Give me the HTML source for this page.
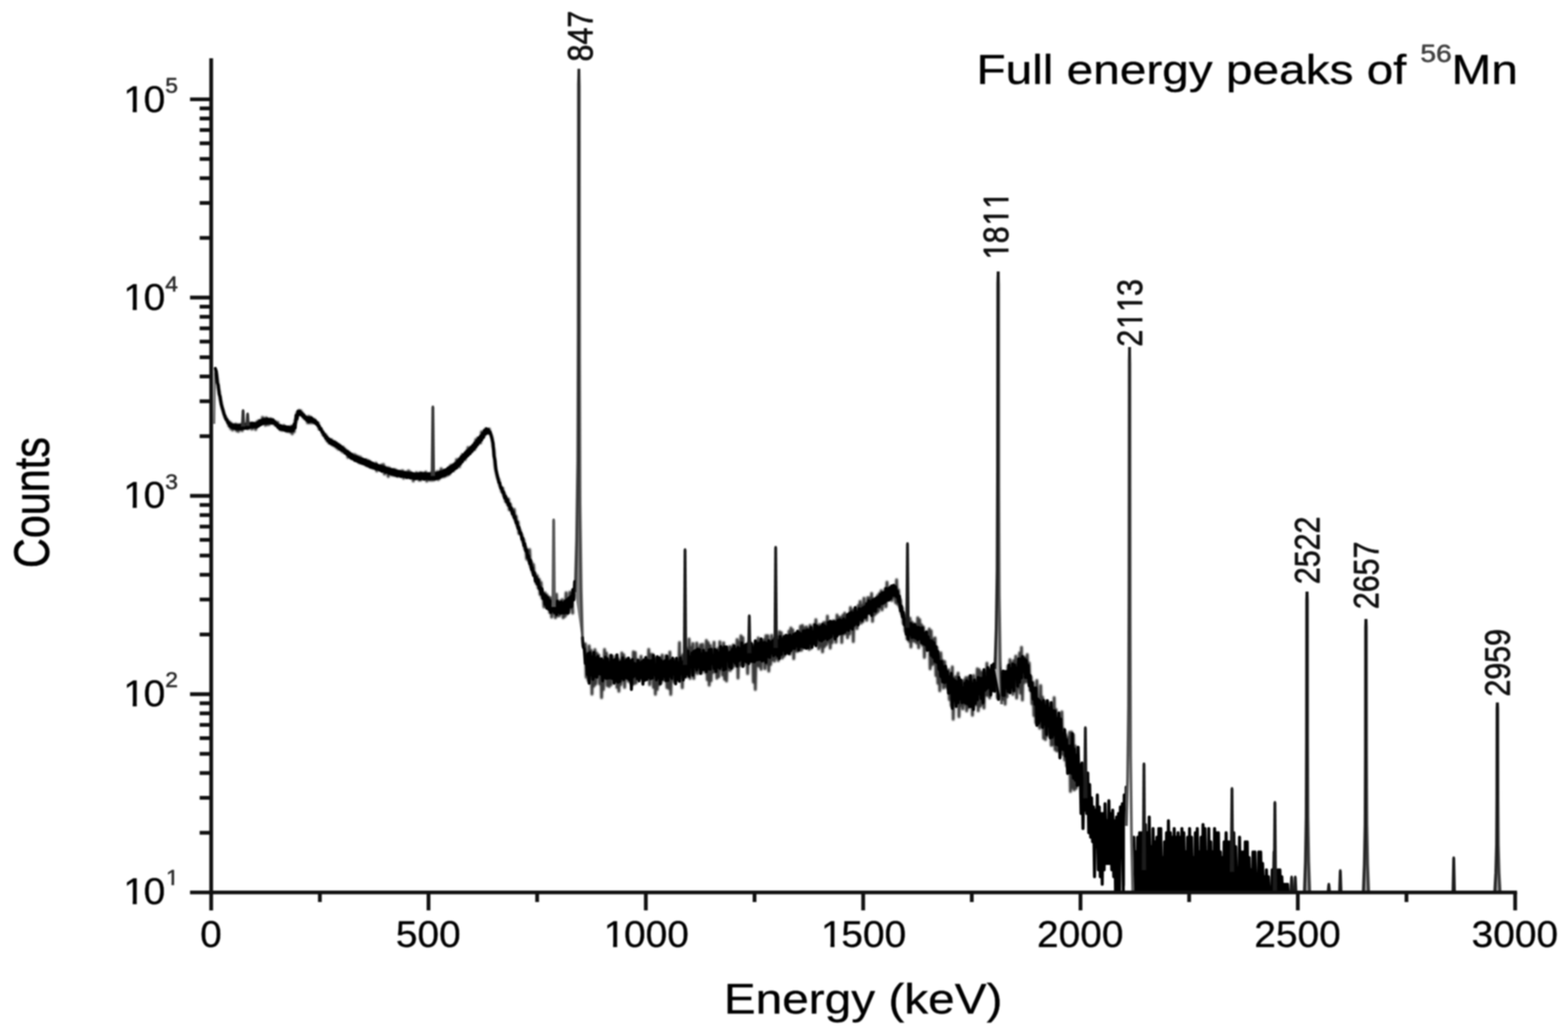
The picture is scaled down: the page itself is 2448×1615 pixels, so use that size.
<!DOCTYPE html>
<html lang="en"><head><meta charset="utf-8"><title>Full energy peaks of 56Mn</title>
<style>
html,body{margin:0;padding:0;background:#fff;}
body{width:2448px;height:1615px;overflow:hidden;}
svg{display:block;filter:blur(1.15px);}
text{font-family:"Liberation Sans",Arial,Helvetica,sans-serif;font-kerning:none;stroke:#000;stroke-width:0.45px;stroke-linejoin:round;}
text.pl{stroke-width:0.8px;}
text.sup{stroke:#333;stroke-width:0.8px;}
</style></head><body>
<svg width="2448" height="1615" viewBox="0 0 2448 1615">
<rect x="-20" y="-20" width="2488" height="1655" fill="#fff"/>
<defs><filter id="fb" x="-5%" y="-20%" width="110%" height="140%"><feGaussianBlur stdDeviation="1.1"/></filter><clipPath id="pc"><rect x="329.7" y="80" width="2039.8" height="1313.9"/></clipPath></defs>
<g clip-path="url(#pc)">
<g filter="url(#fb)" fill="none" stroke="#000" stroke-opacity="0.78" stroke-width="4.6" stroke-linejoin="round" stroke-linecap="round"><path d="M337.8,584.1 339.2,591.9 340.8,606.3 342.2,611.3 343.8,623.7 345.2,628.1 346.8,636.8 348.2,641.2 349.8,647.1 351.2,652.0 352.8,652.4 354.2,657.6 355.8,657.0 357.2,664.9 358.8,659.4 360.2,669.4 361.8,661.7 363.2,671.6 364.8,664.5 366.2,668.3 367.8,662.3 369.2,672.8 370.8,663.2 372.2,674.0 373.8,663.5 375.2,670.8 376.8,662.8 378.2,672.7 379.8,663.3 381.2,668.6 382.8,663.7 384.2,668.0 385.8,661.1 387.2,669.5 388.8,662.1 390.2,667.0 391.8,660.8 393.2,670.3 394.8,661.1 396.2,668.1 397.8,662.1 399.2,671.0 400.8,659.1 402.2,665.2 403.8,657.3 405.2,663.2 406.8,657.6 408.2,661.4 409.8,651.9 411.2,659.3 412.8,653.8 414.2,664.1 415.8,652.6 417.2,663.2 418.8,655.7 420.2,662.9 421.8,654.2 423.2,660.3 424.8,655.1 426.2,661.1 427.8,657.1 429.2,663.6 430.8,659.2 432.2,665.3 433.8,659.8 435.2,668.6 436.8,665.0 438.2,671.3 439.8,666.3 441.2,671.9 442.8,664.5 444.2,670.9 445.8,666.9 447.2,673.4 448.8,668.0 450.2,673.9 451.8,668.8 453.2,674.8 454.8,665.6 456.2,677.6 457.8,666.1 459.2,674.2 460.8,656.4 462.2,659.0 463.8,644.5 465.2,649.2 466.8,641.1 468.2,645.8 469.8,641.8 471.2,648.9 472.8,645.8 474.2,652.7 475.8,649.5 477.2,655.1 478.8,651.8 480.2,660.4 481.8,650.3 483.2,660.4 484.8,651.6 486.2,660.3 487.8,654.0 489.2,660.5 490.8,655.3 492.2,660.5 493.8,658.7 495.2,663.2 496.8,660.9 498.2,669.9 499.8,667.9 501.2,671.4 502.8,672.4 504.2,678.9 505.8,676.9 507.2,682.7 508.8,679.4 510.2,687.9 511.8,683.8 513.2,691.3 514.8,686.8 516.2,693.0 517.8,686.9 519.2,695.1 520.8,689.9 522.2,696.6 523.8,690.8 525.2,699.2 526.8,693.3 528.2,701.5 529.8,695.0 531.2,702.1 532.8,697.8 534.2,705.2 535.8,698.4 537.2,706.9 538.8,701.7 540.2,708.0 541.8,704.1 543.2,714.4 544.8,706.5 546.2,713.6 547.8,709.4 549.2,716.3 550.8,709.9 552.2,717.3 553.8,710.1 555.2,718.8 556.8,711.9 558.2,720.5 559.8,713.2 561.2,722.6 562.8,714.1 564.2,723.5 565.8,717.0 567.2,724.1 568.8,720.3 570.2,725.9 571.8,718.2 573.2,727.5 574.8,719.4 576.2,728.4 577.8,721.0 579.2,730.0 580.8,723.7 582.2,731.2 583.8,725.9 585.2,731.1 586.8,723.3 588.2,735.6 589.8,727.7 591.2,733.4 592.8,727.5 594.2,734.0 595.8,726.3 597.2,735.9 598.8,725.4 600.2,740.5 601.8,729.9 603.2,738.0 604.8,730.6 606.2,744.2 607.8,731.0 609.2,737.5 610.8,733.8 612.2,742.0 613.8,733.6 615.2,742.5 616.8,733.6 618.2,743.0 619.8,735.2 621.2,743.9 622.8,737.3 624.2,742.9 625.8,735.9 627.2,744.1 628.8,735.2 630.2,747.0 631.8,738.3 633.2,742.9 634.8,737.3 636.2,745.9 637.8,735.3 639.2,745.3 640.8,737.6 642.2,746.1 643.8,740.8 645.2,751.3 646.8,740.7 648.2,747.5 649.8,738.2 651.2,746.2 652.8,739.9 654.2,749.9 655.8,738.3 657.2,749.6 658.8,738.7 660.2,745.2 661.8,739.7 663.2,748.0 664.8,737.2 666.2,751.5 667.8,742.3 669.2,749.3 670.8,741.8 672.2,749.9 673.8,737.9 675.2,749.9 676.8,741.4 678.2,749.5 679.8,738.2 681.2,747.1 682.8,736.5 684.2,749.1 685.8,738.6 687.2,746.5 688.8,732.0 690.2,744.7 691.8,736.7 693.2,744.5 694.8,734.9 696.2,743.2 697.8,734.6 699.2,742.0 700.8,730.3 702.2,740.1 703.8,726.7 705.2,735.0 706.8,726.3 708.2,735.2 709.8,724.4 711.2,731.5 712.8,717.8 714.2,729.2 715.8,717.7 717.2,728.9 718.8,715.0 720.2,722.9 721.8,710.0 723.2,718.9 724.8,710.1 726.2,717.7 727.8,705.4 729.2,712.1 730.8,699.1 732.2,709.0 733.8,699.7 735.2,706.7 736.8,697.2 738.2,703.6 739.8,693.9 741.2,701.7 742.8,686.9 744.2,696.8 745.8,684.3 747.2,692.3 748.8,683.7 750.2,691.8 751.8,674.6 753.2,685.0 754.8,674.4 756.2,680.6 757.8,670.4 759.2,676.0 760.8,671.9 762.2,676.6 763.8,670.3 765.2,676.4 766.8,679.1 768.2,683.9 769.8,697.8 771.2,702.8 772.8,726.4 774.2,735.2 775.8,742.8 777.2,747.9 778.8,749.0 780.2,758.4 781.8,760.2 783.2,767.7 784.8,762.4 786.2,774.2 787.8,771.1 789.2,783.1 790.8,777.5 792.2,787.8 793.8,779.4 795.2,796.2 796.8,787.3 798.2,797.6 799.8,796.4 801.2,805.6 802.8,795.4 804.2,812.8 805.8,806.1 807.2,821.3 808.8,815.1 810.2,833.4 811.8,827.6 813.2,835.0 814.8,835.2 816.2,846.3 817.8,843.0 819.2,857.5 820.8,854.2 822.2,873.2 823.8,860.4 825.2,875.8 826.8,858.4 828.2,885.1 829.8,877.5 831.2,893.7 832.8,881.8 834.2,898.4 835.8,896.0 837.2,911.3 838.8,899.2 840.2,918.3 841.8,904.9 843.2,928.6 844.8,909.8 846.2,934.2 847.8,926.6 849.2,948.1 850.8,925.9 852.2,947.3 853.8,929.1 855.2,948.6 856.8,932.5 858.2,956.5 859.8,933.8 861.2,963.9 862.8,942.0 864.2,957.5 865.8,938.9 867.2,964.9 868.8,928.0 870.2,961.9 871.8,940.8 873.2,961.9 874.8,938.9 876.2,954.5 877.8,936.5 879.2,965.0 880.8,940.5 882.2,962.6 883.8,925.9 885.2,959.2 886.8,935.7 888.2,957.0 889.8,924.7 891.2,949.7 892.8,927.3 894.2,957.6"/><path d="M913.8,1005.5 915.2,1057.7 916.8,1021.3 918.2,1062.9 919.8,1008.7 921.2,1058.5 922.8,1015.9 924.2,1084.1 925.8,1022.5 927.2,1071.6 928.8,1014.5 930.2,1068.4 931.8,1020.3 933.2,1048.7 934.8,1023.2 936.2,1068.3 937.8,1029.3 939.2,1089.6 940.8,1041.4 942.2,1076.9 943.8,1014.3 945.2,1053.5 946.8,1020.0 948.2,1070.9 949.8,1032.4 951.2,1072.3 952.8,1023.9 954.2,1069.3 955.8,1024.9 957.2,1058.4 958.8,1034.5 960.2,1062.4 961.8,1024.9 963.2,1073.7 964.8,1029.1 966.2,1079.7 967.8,1032.3 969.2,1069.3 970.8,1019.9 972.2,1062.4 973.8,1022.9 975.2,1073.7 976.8,1029.1 978.2,1055.8 979.8,1029.1 981.2,1063.8 982.8,1031.2 984.2,1066.5 985.8,1037.8 987.2,1069.3 988.8,1018.0 990.2,1067.9 991.8,1019.0 993.2,1066.6 994.8,1030.2 996.2,1058.5 997.8,1032.3 999.2,1058.5 1000.8,1025.0 1002.2,1059.8 1003.8,1037.9 1005.2,1058.5 1006.8,1032.4 1008.2,1061.2 1009.8,1030.2 1011.2,1052.1 1012.8,1014.2 1014.2,1069.5 1015.8,1022.0 1017.2,1049.7 1018.8,1022.0 1020.2,1073.8 1021.8,1027.1 1023.2,1084.5 1024.8,1029.2 1026.2,1076.8 1027.8,1028.2 1029.2,1069.5 1030.8,1027.2 1032.2,1066.7 1033.8,1023.1 1035.2,1061.3 1036.8,1033.6 1038.2,1062.6 1039.8,1024.1 1041.2,1073.9 1042.8,1029.3 1044.2,1075.4 1045.8,1018.2 1047.2,1084.7 1048.8,1033.6 1050.2,1061.4 1051.8,1030.4 1053.2,1065.5 1054.8,1030.4 1056.2,1060.1 1057.8,1031.5 1059.2,1062.8 1060.8,1003.5 1062.2,1058.8 1063.8,1025.2 1065.2,1074.1 1066.8,1022.5 1068.2,1056.6 1069.8,1021.2 1071.2,1057.5 1072.8,1013.1 1074.2,1053.1 1075.8,998.1 1077.2,1059.7 1078.8,1011.4 1080.2,1052.0 1081.8,1005.1 1083.2,1059.8 1084.8,1021.0 1086.2,1049.7 1087.8,1004.3 1089.2,1052.2 1090.8,1012.5 1092.2,1043.8 1093.8,1007.1 1095.2,1051.1 1096.8,1006.2 1098.2,1029.5 1099.8,1028.5 1101.2,1050.1 1102.8,1000.3 1104.2,1061.7 1105.8,1003.8 1107.2,1070.1 1108.8,1008.3 1110.2,1063.2 1111.8,1014.8 1113.2,1050.3 1114.8,1003.0 1116.2,1049.2 1117.8,1024.7 1119.2,1059.4 1120.8,1013.0 1122.2,1056.9 1123.8,1002.3 1125.2,1045.7 1126.8,1011.3 1128.2,1054.4 1129.8,1004.1 1131.2,1061.0 1132.8,1011.4 1134.2,1063.8 1135.8,1019.1 1137.2,1046.0 1138.8,1009.7 1140.2,1047.4 1141.8,1010.7 1143.2,1043.9 1144.8,1007.2 1146.2,1040.5 1147.8,1017.5 1149.2,1037.3 1150.8,998.7 1152.2,1059.2 1153.8,1003.1 1155.2,1039.8 1156.8,993.1 1158.2,1037.6 1159.8,995.7 1161.2,1038.9 1162.8,1011.4 1164.2,1033.4 1165.8,1009.7 1167.2,1052.1 1168.8,1003.5 1170.2,1034.7 1171.8,1003.6 1173.2,1026.2 1174.8,1007.2 1176.2,1065.4 1177.8,1009.1 1179.2,1077.0 1180.8,1002.1 1182.2,1039.4 1183.8,996.3 1185.2,1040.6 1186.8,1003.1 1188.2,1045.4 1189.8,1001.5 1191.2,1027.8 1192.8,999.1 1194.2,1044.5 1195.8,992.7 1197.2,1036.6 1198.8,992.8 1200.2,1048.3 1201.8,1002.0 1203.2,1038.0 1204.8,992.2 1206.2,1030.5 1207.8,1007.4 1209.2,1032.7 1210.8,999.8 1212.2,1027.6 1213.8,994.2 1215.2,1031.9 1216.8,986.5 1218.2,1020.8 1219.8,988.1 1221.2,1028.0 1222.8,1000.3 1224.2,1025.0 1225.8,993.1 1227.2,1021.2 1228.8,994.9 1230.2,1019.4 1231.8,985.8 1233.2,1021.6 1234.8,980.8 1236.2,1007.9 1237.8,983.9 1239.2,1029.0 1240.8,992.4 1242.2,1016.4 1243.8,990.2 1245.2,1017.4 1246.8,986.5 1248.2,1015.7 1249.8,978.0 1251.2,1015.8 1252.8,976.7 1254.2,1012.3 1255.8,981.1 1257.2,1007.1 1258.8,979.1 1260.2,1003.8 1261.8,982.1 1263.2,1014.5 1264.8,976.6 1266.2,1012.8 1267.8,986.0 1269.2,1005.9 1270.8,975.5 1272.2,1005.2 1273.8,967.7 1275.2,1003.7 1276.8,977.9 1278.2,1013.4 1279.8,975.3 1281.2,1009.1 1282.8,980.9 1284.2,1018.3 1285.8,972.2 1287.2,1010.2 1288.8,972.3 1290.2,1006.9 1291.8,962.3 1293.2,1002.0 1294.8,976.6 1296.2,1012.4 1297.8,976.1 1299.2,1003.9 1300.8,969.6 1302.2,992.8 1303.8,970.4 1305.2,1003.3 1306.8,960.5 1308.2,985.6 1309.8,964.3 1311.2,990.2 1312.8,964.5 1314.2,1003.7 1315.8,961.0 1317.2,990.4 1318.8,957.6 1320.2,989.2 1321.8,962.0 1323.2,996.2 1324.8,960.5 1326.2,990.3 1327.8,948.7 1329.2,977.1 1330.8,953.4 1332.2,1002.3 1333.8,951.9 1335.2,975.5 1336.8,954.9 1338.2,981.8 1339.8,945.9 1341.2,968.8 1342.8,939.4 1344.2,973.5 1345.8,945.8 1347.2,971.1 1348.8,934.4 1350.2,965.1 1351.8,943.0 1353.2,968.9 1354.8,933.4 1356.2,957.2 1357.8,934.1 1359.2,958.5 1360.8,926.8 1362.2,970.6 1363.8,935.4 1365.2,960.5 1366.8,936.5 1368.2,957.8 1369.8,930.6 1371.2,955.1 1372.8,927.1 1374.2,948.8 1375.8,922.5 1377.2,952.7 1378.8,930.1 1380.2,941.5 1381.8,919.8 1383.2,947.6 1384.8,909.2 1386.2,936.4 1387.8,920.1 1389.2,936.0 1390.8,916.5 1392.2,938.0 1393.8,919.0 1395.2,932.4 1396.8,915.8 1398.2,941.4 1399.8,905.5 1401.2,943.7 1402.8,921.6 1404.2,947.9 1405.8,936.6 1407.2,958.6 1408.8,949.5 1410.2,973.9 1411.8,960.9 1413.2,985.8 1414.8,969.4 1416.2,997.9 1417.8,973.0 1419.2,1001.7 1420.8,965.6 1422.2,1010.7 1423.8,971.9 1425.2,1000.5 1426.8,974.4 1428.2,1002.0 1429.8,975.6 1431.2,1004.3 1432.8,964.9 1434.2,1011.8 1435.8,967.8 1437.2,998.8 1438.8,976.1 1440.2,1007.7 1441.8,979.2 1443.2,1027.0 1444.8,988.2 1446.2,1014.0 1447.8,986.8 1449.2,1012.4 1450.8,982.4 1452.2,1044.6 1453.8,985.4 1455.2,1038.2 1456.8,998.9 1458.2,1036.3 1459.8,996.2 1461.2,1055.3 1462.8,1011.0 1464.2,1067.3 1465.8,1025.5 1467.2,1079.0 1468.8,1019.5 1470.2,1049.0 1471.8,1032.0 1473.2,1074.7 1474.8,1033.2 1476.2,1071.9 1477.8,1052.0 1479.2,1075.1 1480.8,1046.1 1482.2,1092.8 1483.8,1057.9 1485.2,1102.4 1486.8,1041.6 1488.2,1123.4 1489.8,1058.5 1491.2,1097.8 1492.8,1056.8 1494.2,1092.1 1495.8,1051.4 1497.2,1119.5 1498.8,1065.6 1500.2,1101.9 1501.8,1065.4 1503.2,1107.2 1504.8,1062.5 1506.2,1099.6 1507.8,1058.3 1509.2,1110.5 1510.8,1058.5 1512.2,1105.0 1513.8,1056.1 1515.2,1099.8 1516.8,1064.2 1518.2,1117.1 1519.8,1055.1 1521.2,1100.3 1522.8,1063.3 1524.2,1100.6 1525.8,1044.6 1527.2,1110.3 1528.8,1046.0 1530.2,1103.2 1531.8,1049.9 1533.2,1100.0 1534.8,1050.3 1536.2,1106.0 1537.8,1050.7 1539.2,1085.8 1540.8,1035.9 1542.2,1086.4 1543.8,1044.3 1545.2,1090.2 1546.8,1049.5 1548.2,1079.6 1549.8,1040.9 1551.2,1067.5 1552.8,1038.0 1554.2,1078.4 1555.8,1028.5 1557.2,1089.9 1558.8,1035.2 1560.2,1074.6 1561.8,1049.4 1563.2,1079.5 1564.8,1052.0 1566.2,1092.6 1567.8,1054.9 1569.2,1100.0 1570.8,1050.3 1572.2,1088.5 1573.8,1039.9 1575.2,1069.1 1576.8,1030.2 1578.2,1078.2 1579.8,1035.9 1581.2,1084.8 1582.8,1031.7 1584.2,1078.9 1585.8,1024.7 1587.2,1090.4 1588.8,1037.1 1590.2,1074.2 1591.8,1019.9 1593.2,1082.7 1594.8,1011.0 1596.2,1093.5 1597.8,1025.9 1599.2,1066.4 1600.8,1027.5 1602.2,1064.5 1603.8,1022.4 1605.2,1065.9 1606.8,1035.5 1608.2,1078.1 1609.8,1057.0 1611.2,1099.3 1612.8,1065.9 1614.2,1117.7 1615.8,1076.5 1617.2,1128.9 1618.8,1062.7 1620.2,1132.0 1621.8,1093.6 1623.2,1137.4 1624.8,1070.9 1626.2,1133.9 1627.8,1089.0 1629.2,1153.1 1630.8,1098.9 1632.2,1155.2 1633.8,1095.0 1635.2,1149.3 1636.8,1098.1 1638.2,1143.8 1639.8,1104.7 1641.2,1164.1 1642.8,1115.6 1644.2,1163.2 1645.8,1089.5 1647.2,1171.0 1648.8,1108.4 1650.2,1173.1 1651.8,1119.5 1653.2,1171.8 1654.8,1133.7 1656.2,1170.4 1657.8,1111.7 1659.2,1178.4 1660.8,1138.8 1662.2,1187.0 1663.8,1147.8 1665.2,1196.3 1666.8,1152.2 1668.2,1195.3 1669.8,1143.9 1671.2,1236.3 1672.8,1143.3 1674.2,1230.2 1675.8,1147.6 1677.2,1233.7 1678.8,1165.2 1680.2,1231.2"/></g>
<path d="M336.2,575.4 337.8,580.1 339.2,597.2 340.8,601.7 342.2,615.5 343.8,619.9 345.2,630.8 346.8,636.2 348.2,640.8 349.8,646.7 351.2,649.6 352.8,655.0 354.2,655.1 355.8,660.7 357.2,659.7 358.8,665.6 360.2,662.3 361.8,667.5 363.2,663.6 364.8,668.7 366.2,663.9 367.8,669.5 369.2,664.3 370.8,669.9 372.2,664.4 373.8,669.8 375.2,664.1 376.8,669.8 378.2,663.7 379.8,669.3 381.2,663.1 382.8,668.9 384.2,662.5 385.8,668.8 387.2,662.3 388.8,668.1 390.2,661.8 391.8,667.0 393.2,661.1 394.8,667.0 396.2,661.4 397.8,666.6 399.2,661.8 400.8,667.0 402.2,659.9 403.8,665.4 405.2,657.4 406.8,663.5 408.2,656.6 409.8,662.0 411.2,655.3 412.8,661.0 414.2,655.1 415.8,661.0 417.2,654.4 418.8,660.5 420.2,655.3 421.8,660.6 423.2,655.3 424.8,660.9 426.2,655.9 427.8,661.1 429.2,658.7 430.8,664.0 432.2,661.5 433.8,667.3 435.2,664.4 436.8,670.1 438.2,664.9 439.8,670.8 441.2,666.1 442.8,671.4 444.2,666.1 445.8,672.4 447.2,666.8 448.8,672.9 450.2,666.9 451.8,672.9 453.2,667.7 454.8,673.3 456.2,666.6 457.8,672.5 459.2,662.5 460.8,668.3 462.2,648.7 463.8,654.5 465.2,642.4 466.8,647.4 468.2,642.3 469.8,647.8 471.2,645.3 472.8,650.5 474.2,648.1 475.8,653.6 477.2,651.3 478.8,656.2 480.2,652.5 481.8,658.7 483.2,652.5 484.8,658.0 486.2,652.8 487.8,658.2 489.2,655.3 490.8,660.1 492.2,657.0 493.8,662.4 495.2,660.0 496.8,665.6 498.2,665.1 499.8,670.8 501.2,669.6 502.8,675.1 504.2,674.7 505.8,680.0 507.2,678.9 508.8,684.9 510.2,682.4 511.8,688.5 513.2,685.5 514.8,691.8 516.2,687.0 517.8,693.4 519.2,689.3 520.8,694.8 522.2,690.3 523.8,696.4 525.2,692.3 526.8,698.4 528.2,694.3 529.8,700.9 531.2,696.4 532.8,702.8 534.2,698.7 535.8,704.3 537.2,701.3 538.8,707.5 540.2,704.1 541.8,709.8 543.2,705.5 544.8,712.7 546.2,707.8 547.8,715.3 549.2,709.8 550.8,716.5 552.2,712.3 553.8,719.0 555.2,713.2 556.8,719.9 558.2,714.1 559.8,721.4 561.2,715.8 562.8,722.6 564.2,716.6 565.8,723.7 567.2,717.5 568.8,724.6 570.2,718.3 571.8,726.4 573.2,720.3 574.8,727.5 576.2,720.9 577.8,729.3 579.2,722.5 580.8,730.0 582.2,723.6 583.8,731.0 585.2,725.4 586.8,732.4 588.2,725.7 589.8,732.6 591.2,727.2 592.8,734.1 594.2,727.9 595.8,735.9 597.2,729.0 598.8,735.6 600.2,729.9 601.8,737.4 603.2,731.7 604.8,737.6 606.2,732.3 607.8,739.4 609.2,732.9 610.8,740.3 612.2,733.6 613.8,740.9 615.2,734.0 616.8,741.9 618.2,735.3 619.8,743.1 621.2,736.2 622.8,742.9 624.2,736.5 625.8,744.1 627.2,737.3 628.8,743.9 630.2,737.9 631.8,744.4 633.2,738.3 634.8,745.7 636.2,738.9 637.8,745.4 639.2,739.0 640.8,746.5 642.2,739.1 643.8,746.6 645.2,739.8 646.8,747.6 648.2,740.4 649.8,747.5 651.2,740.2 652.8,747.1 654.2,740.2 655.8,748.1 657.2,739.4 658.8,747.2 660.2,739.9 661.8,748.3 663.2,739.7 664.8,747.6 666.2,740.0 667.8,747.4 669.2,739.8 670.8,748.0 672.2,740.0 673.8,747.6 675.2,739.6 676.8,747.7 678.2,740.1 679.8,747.9 681.2,739.4 682.8,747.2 684.2,738.4 685.8,746.3 687.2,737.0 688.8,744.4 690.2,736.6 691.8,743.1 693.2,734.7 694.8,742.5 696.2,733.6 697.8,740.4 699.2,731.5 700.8,739.9 702.2,729.7 703.8,737.6 705.2,727.9 706.8,735.3 708.2,725.8 709.8,732.5 711.2,723.7 712.8,730.9 714.2,720.4 715.8,727.2 717.2,717.2 718.8,724.7 720.2,713.3 721.8,721.1 723.2,710.5 724.8,716.9 726.2,707.4 727.8,714.1 729.2,704.3 730.8,711.5 732.2,701.8 733.8,708.6 735.2,698.6 736.8,705.1 738.2,695.6 739.8,701.8 741.2,691.9 742.8,698.2 744.2,688.5 745.8,694.5 747.2,684.2 748.8,690.9 750.2,681.1 751.8,687.4 753.2,677.2 754.8,683.3 756.2,672.3 757.8,678.0 759.2,669.6 760.8,676.2 762.2,670.7 763.8,676.2 765.2,674.8 766.8,680.6 768.2,685.7 769.8,692.2 771.2,712.1 772.8,718.7 774.2,732.8 775.8,740.0 777.2,745.7 778.8,753.9 780.2,754.1 781.8,762.6 783.2,762.0 784.8,769.3 786.2,768.3 787.8,777.8 789.2,775.0 790.8,783.7 792.2,780.4 793.8,789.3 795.2,786.7 796.8,795.4 798.2,793.2 799.8,802.5 801.2,799.5 802.8,808.8 804.2,807.1 805.8,816.8 807.2,815.4 808.8,825.3 810.2,823.5 811.8,833.1 813.2,832.2 814.8,842.3 816.2,840.5 817.8,852.1 819.2,849.1 820.8,860.5 822.2,858.5 823.8,870.6 825.2,868.3 826.8,880.5 828.2,874.9 829.8,889.7 831.2,886.7 832.8,898.7 834.2,894.3 835.8,907.8 837.2,901.7 838.8,912.4 840.2,905.7 841.8,919.6 843.2,916.8 844.8,927.6 846.2,919.7 847.8,935.0 849.2,928.0 850.8,943.7 852.2,930.4 853.8,950.0 855.2,933.2 856.8,951.7 858.2,937.8 859.8,956.6 861.2,939.3 862.8,954.1 864.2,938.9 865.8,956.7 867.2,943.0 868.8,959.8 870.2,938.9 871.8,956.4 873.2,941.2 874.8,958.0 876.2,940.3 877.8,957.4 879.2,941.8 880.8,957.5 882.2,939.0 883.8,956.9 885.2,936.6 886.8,957.3 888.2,934.2 889.8,947.9 891.2,931.6 892.8,947.5 894.2,920.8 895.8,937.0 897.2,908.4 898.8,925.3" fill="none" stroke="#000" stroke-width="4.8" stroke-linejoin="round" stroke-linecap="round"/>
<path d="M909.2,995.9 910.8,1011.2 912.2,1013.7 913.8,1036.2 915.2,1024.1 916.8,1053.6 918.2,1020.9 919.8,1067.2 921.2,1019.3 922.8,1054.0 924.2,1026.4 925.8,1061.0 927.2,1019.1 928.8,1056.9 930.2,1028.0 931.8,1057.6 933.2,1025.3 934.8,1052.5 936.2,1029.5 937.8,1052.9 939.2,1029.2 940.8,1063.3 942.2,1032.1 943.8,1058.6 945.2,1026.5 946.8,1059.6 948.2,1028.9 949.8,1059.2 951.2,1035.1 952.8,1058.7 954.2,1023.7 955.8,1059.6 957.2,1031.4 958.8,1067.0 960.2,1030.2 961.8,1063.6 963.2,1022.9 964.8,1065.6 966.2,1034.8 967.8,1064.4 969.2,1033.9 970.8,1059.3 972.2,1027.5 973.8,1061.3 975.2,1032.7 976.8,1058.3 978.2,1031.0 979.8,1059.7 981.2,1027.8 982.8,1061.9 984.2,1032.1 985.8,1076.8 987.2,1030.2 988.8,1057.4 990.2,1036.3 991.8,1055.4 993.2,1036.8 994.8,1060.2 996.2,1031.4 997.8,1063.5 999.2,1035.3 1000.8,1058.3 1002.2,1033.5 1003.8,1068.7 1005.2,1030.6 1006.8,1062.5 1008.2,1026.9 1009.8,1061.4 1011.2,1031.3 1012.8,1058.2 1014.2,1032.2 1015.8,1060.0 1017.2,1031.9 1018.8,1059.0 1020.2,1023.7 1021.8,1053.8 1023.2,1039.1 1024.8,1061.9 1026.2,1025.6 1027.8,1058.7 1029.2,1027.6 1030.8,1068.1 1032.2,1031.6 1033.8,1060.9 1035.2,1033.8 1036.8,1056.7 1038.2,1032.1 1039.8,1063.2 1041.2,1024.8 1042.8,1062.9 1044.2,1033.7 1045.8,1055.8 1047.2,1031.7 1048.8,1059.4 1050.2,1027.9 1051.8,1052.4 1053.2,1034.2 1054.8,1068.1 1056.2,1028.2 1057.8,1061.2 1059.2,1035.3 1060.8,1064.1 1062.2,1027.7 1063.8,1052.2 1065.2,1034.5 1066.8,1062.0 1068.2,1030.6 1069.8,1057.1 1071.2,1023.5 1072.8,1052.7 1074.2,1016.9 1075.8,1056.3 1077.2,1026.2 1078.8,1041.4 1080.2,1019.9 1081.8,1054.9 1083.2,1017.5 1084.8,1041.3 1086.2,1015.8 1087.8,1046.3 1089.2,1014.1 1090.8,1041.3 1092.2,1015.0 1093.8,1051.9 1095.2,1021.4 1096.8,1046.0 1098.2,1016.0 1099.8,1045.9 1101.2,1020.2 1102.8,1049.0 1104.2,1020.0 1105.8,1044.6 1107.2,1014.8 1108.8,1045.4 1110.2,1014.1 1111.8,1036.0 1113.2,1023.9 1114.8,1044.1 1116.2,1014.4 1117.8,1048.8 1119.2,1016.1 1120.8,1041.8 1122.2,1020.2 1123.8,1043.8 1125.2,1010.0 1126.8,1040.2 1128.2,1012.9 1129.8,1046.5 1131.2,1010.3 1132.8,1045.1 1134.2,1010.5 1135.8,1030.8 1137.2,1019.7 1138.8,1041.7 1140.2,1018.5 1141.8,1043.6 1143.2,1014.1 1144.8,1032.7 1146.2,1008.8 1147.8,1035.7 1149.2,1014.3 1150.8,1040.6 1152.2,1011.2 1153.8,1032.2 1155.2,1013.5 1156.8,1029.9 1158.2,1004.2 1159.8,1040.9 1161.2,1008.8 1162.8,1032.4 1164.2,1006.9 1165.8,1033.8 1167.2,1005.6 1168.8,1036.5 1170.2,1007.5 1171.8,1032.5 1173.2,1005.3 1174.8,1033.1 1176.2,1012.2 1177.8,1033.7 1179.2,1000.8 1180.8,1030.8 1182.2,1005.1 1183.8,1030.4 1185.2,1004.7 1186.8,1030.1 1188.2,997.8 1189.8,1032.3 1191.2,1004.2 1192.8,1031.0 1194.2,1003.3 1195.8,1034.7 1197.2,1005.1 1198.8,1025.4 1200.2,1000.6 1201.8,1026.8 1203.2,1003.5 1204.8,1020.2 1206.2,1001.0 1207.8,1024.0 1209.2,997.1 1210.8,1021.5 1212.2,998.4 1213.8,1024.4 1215.2,1001.0 1216.8,1028.5 1218.2,994.1 1219.8,1022.1 1221.2,998.2 1222.8,1015.3 1224.2,994.3 1225.8,1021.2 1227.2,992.5 1228.8,1019.0 1230.2,993.1 1231.8,1020.8 1233.2,992.0 1234.8,1016.4 1236.2,994.1 1237.8,1012.9 1239.2,990.8 1240.8,1012.8 1242.2,989.1 1243.8,1008.5 1245.2,986.0 1246.8,1015.3 1248.2,988.6 1249.8,1010.2 1251.2,990.2 1252.8,1010.2 1254.2,985.4 1255.8,1011.4 1257.2,985.2 1258.8,1012.7 1260.2,983.8 1261.8,1011.5 1263.2,984.7 1264.8,1004.7 1266.2,980.0 1267.8,1010.9 1269.2,987.0 1270.8,1005.0 1272.2,975.8 1273.8,1008.5 1275.2,978.0 1276.8,996.8 1278.2,980.5 1279.8,1000.1 1281.2,978.9 1282.8,1001.0 1284.2,975.1 1285.8,998.6 1287.2,977.2 1288.8,996.4 1290.2,979.3 1291.8,998.9 1293.2,972.1 1294.8,996.6 1296.2,970.4 1297.8,994.5 1299.2,971.5 1300.8,989.0 1302.2,970.9 1303.8,998.2 1305.2,972.4 1306.8,993.6 1308.2,968.9 1309.8,990.3 1311.2,968.2 1312.8,989.5 1314.2,969.4 1315.8,988.9 1317.2,966.7 1318.8,987.2 1320.2,969.1 1321.8,983.9 1323.2,960.0 1324.8,984.5 1326.2,957.9 1327.8,980.6 1329.2,956.4 1330.8,982.6 1332.2,957.6 1333.8,976.4 1335.2,949.0 1336.8,973.5 1338.2,956.5 1339.8,976.0 1341.2,950.6 1342.8,967.2 1344.2,951.3 1345.8,969.0 1347.2,949.5 1348.8,964.3 1350.2,947.6 1351.8,964.0 1353.2,943.1 1354.8,958.1 1356.2,938.4 1357.8,957.5 1359.2,939.7 1360.8,961.4 1362.2,937.4 1363.8,954.1 1365.2,936.0 1366.8,954.5 1368.2,933.8 1369.8,947.0 1371.2,932.7 1372.8,947.0 1374.2,928.7 1375.8,942.9 1377.2,926.0 1378.8,942.4 1380.2,925.5 1381.8,940.3 1383.2,919.1 1384.8,937.8 1386.2,919.8 1387.8,937.4 1389.2,917.9 1390.8,934.6 1392.2,915.1 1393.8,929.9 1395.2,914.1 1396.8,929.9 1398.2,916.7 1399.8,932.2 1401.2,923.6 1402.8,939.8 1404.2,931.0 1405.8,954.0 1407.2,946.5 1408.8,963.6 1410.2,956.3 1411.8,975.9 1413.2,967.1 1414.8,990.5 1416.2,972.4 1417.8,998.3 1419.2,973.5 1420.8,991.0 1422.2,973.8 1423.8,995.6 1425.2,976.2 1426.8,995.4 1428.2,975.7 1429.8,996.7 1431.2,979.7 1432.8,999.4 1434.2,979.9 1435.8,997.3 1437.2,981.1 1438.8,1004.1 1440.2,980.7 1441.8,1005.5 1443.2,989.3 1444.8,1007.0 1446.2,987.1 1447.8,1015.8 1449.2,994.8 1450.8,1014.9 1452.2,1000.5 1453.8,1023.6 1455.2,1001.3 1456.8,1026.6 1458.2,1004.0 1459.8,1033.0 1461.2,1009.8 1462.8,1034.7 1464.2,1017.3 1465.8,1045.4 1467.2,1033.0 1468.8,1056.6 1470.2,1033.2 1471.8,1065.1 1473.2,1041.4 1474.8,1066.0 1476.2,1040.6 1477.8,1064.5 1479.2,1049.1 1480.8,1082.6 1482.2,1057.2 1483.8,1082.0 1485.2,1051.6 1486.8,1106.4 1488.2,1060.9 1489.8,1093.9 1491.2,1063.1 1492.8,1103.4 1494.2,1065.1 1495.8,1097.6 1497.2,1058.1 1498.8,1091.5 1500.2,1062.2 1501.8,1097.5 1503.2,1074.6 1504.8,1096.7 1506.2,1067.1 1507.8,1098.2 1509.2,1063.2 1510.8,1099.7 1512.2,1065.3 1513.8,1103.7 1515.2,1055.3 1516.8,1103.7 1518.2,1067.8 1519.8,1108.3 1521.2,1062.2 1522.8,1098.5 1524.2,1067.0 1525.8,1093.0 1527.2,1058.2 1528.8,1083.7 1530.2,1059.3 1531.8,1091.0 1533.2,1059.4 1534.8,1097.6 1536.2,1046.0 1537.8,1078.4 1539.2,1060.2 1540.8,1075.5 1542.2,1042.7 1543.8,1073.7 1545.2,1047.1 1546.8,1085.5 1548.2,1039.5 1549.8,1078.6 1551.2,1037.1 1552.8,1079.7 1554.2,1041.2 1555.8,1063.6 1557.2,1044.1 1558.8,1092.4 1560.2,1042.7 1561.8,1080.4 1563.2,1060.2 1564.8,1085.5 1566.2,1048.2 1567.8,1086.4 1569.2,1048.9 1570.8,1074.6 1572.2,1048.7 1573.8,1080.2 1575.2,1038.9 1576.8,1082.0 1578.2,1044.5 1579.8,1073.4 1581.2,1037.1 1582.8,1078.9 1584.2,1038.6 1585.8,1059.9 1587.2,1043.6 1588.8,1071.7 1590.2,1029.2 1591.8,1065.6 1593.2,1029.3 1594.8,1058.6 1596.2,1025.6 1597.8,1049.0 1599.2,1029.4 1600.8,1058.0 1602.2,1031.4 1603.8,1058.5 1605.2,1039.1 1606.8,1071.2 1608.2,1055.0 1609.8,1078.8 1611.2,1066.3 1612.8,1091.9 1614.2,1074.6 1615.8,1100.2 1617.2,1074.4 1618.8,1132.9 1620.2,1091.9 1621.8,1129.3 1623.2,1094.3 1624.8,1125.4 1626.2,1097.4 1627.8,1136.1 1629.2,1093.8 1630.8,1131.1 1632.2,1103.0 1633.8,1147.1 1635.2,1094.3 1636.8,1133.8 1638.2,1106.6 1639.8,1152.7 1641.2,1097.3 1642.8,1151.3 1644.2,1109.8 1645.8,1147.3 1647.2,1110.6 1648.8,1162.6 1650.2,1122.7 1651.8,1163.6 1653.2,1113.7 1654.8,1183.8 1656.2,1123.2 1657.8,1169.9 1659.2,1146.0 1660.8,1171.1 1662.2,1140.0 1663.8,1181.1 1665.2,1155.4 1666.8,1208.0 1668.2,1165.3 1669.8,1206.7 1671.2,1165.2 1672.8,1207.9 1674.2,1145.9 1675.8,1215.3 1677.2,1170.2 1678.8,1218.5 1680.2,1179.7 1681.8,1226.9 1683.2,1167.1 1684.8,1225.4 1686.2,1194.6 1687.8,1270.7 1689.2,1191.6 1690.8,1294.1 1692.2,1221.6 1693.8,1265.4 1695.2,1217.9 1696.8,1270.7 1698.2,1207.4 1699.8,1300.7 1701.2,1225.4 1702.8,1307.6 1704.2,1246.1 1705.8,1314.8 1707.2,1260.3 1708.8,1369.4 1710.2,1265.4 1711.8,1322.5 1713.2,1241.7 1714.8,1358.6 1716.2,1260.3 1717.8,1369.4 1719.2,1270.7 1720.8,1381.1 1722.2,1270.7 1723.8,1358.6 1725.2,1255.4 1726.8,1348.6 1728.2,1281.9 1729.8,1348.6 1731.2,1250.7 1732.8,1348.6 1734.2,1270.7 1735.8,1358.6 1737.2,1265.4 1738.8,1369.4 1740.2,1281.9 1741.8,1408.1 1743.2,1276.1 1744.8,1408.1 1746.2,1270.7 1747.8,1393.9 1749.2,1260.3 1750.8,1330.7 1752.2,1255.4 1753.8,1393.9 1755.2,1241.7 1756.8,1381.1 1758.2,1229.3 1759.8,1339.4 1761.2,1255.4 1762.8,1339.4 1764.2,1260.3 1765.8,1413.9 1767.2,1307.6 1768.8,1413.9 1770.2,1307.6 1771.8,1413.9 1773.2,1330.7 1774.8,1413.9 1776.2,1307.6 1777.8,1413.9 1779.2,1300.7 1780.8,1413.9 1782.2,1300.7 1783.8,1413.9 1785.2,1314.8 1786.8,1413.9 1788.2,1287.9 1789.8,1413.9 1791.2,1300.7 1792.8,1413.9 1794.2,1276.1 1795.8,1413.9 1797.2,1322.5 1798.8,1413.9 1800.2,1294.1 1801.8,1413.9 1803.2,1314.8 1804.8,1413.9 1806.2,1307.6 1807.8,1413.9 1809.2,1294.1 1810.8,1413.9 1812.2,1294.1 1813.8,1413.9 1815.2,1339.4 1816.8,1413.9 1818.2,1314.8 1819.8,1413.9 1821.2,1300.7 1822.8,1413.9 1824.2,1281.9 1825.8,1413.9 1827.2,1300.7 1828.8,1413.9 1830.2,1307.6 1831.8,1413.9 1833.2,1294.1 1834.8,1413.9 1836.2,1307.6 1837.8,1413.9 1839.2,1300.7 1840.8,1413.9 1842.2,1307.6 1843.8,1413.9 1845.2,1294.1 1846.8,1413.9 1848.2,1300.7 1849.8,1413.9 1851.2,1330.7 1852.8,1413.9 1854.2,1307.6 1855.8,1413.9 1857.2,1294.1 1858.8,1413.9 1860.2,1307.6 1861.8,1413.9 1863.2,1339.4 1864.8,1413.9 1866.2,1300.7 1867.8,1413.9 1869.2,1294.1 1870.8,1413.9 1872.2,1330.7 1873.8,1413.9 1875.2,1307.6 1876.8,1413.9 1878.2,1287.9 1879.8,1413.9 1881.2,1294.1 1882.8,1413.9 1884.2,1330.7 1885.8,1413.9 1887.2,1294.1 1888.8,1413.9 1890.2,1314.8 1891.8,1413.9 1893.2,1330.7 1894.8,1413.9 1896.2,1294.1 1897.8,1413.9 1899.2,1300.7 1900.8,1413.9 1902.2,1300.7 1903.8,1413.9 1905.2,1330.7 1906.8,1413.9 1908.2,1339.4 1909.8,1413.9 1911.2,1314.8 1912.8,1413.9 1914.2,1300.7 1915.8,1413.9 1917.2,1314.8 1918.8,1413.9 1920.2,1314.8 1921.8,1413.9 1923.2,1314.8 1924.8,1413.9 1926.2,1300.7 1927.8,1413.9 1929.2,1322.5 1930.8,1413.9 1932.2,1358.6 1933.8,1413.9 1935.2,1307.6 1936.8,1413.9 1938.2,1330.7 1939.8,1413.9 1941.2,1330.7 1942.8,1413.9 1944.2,1314.8 1945.8,1413.9 1947.2,1314.8 1948.8,1413.9 1950.2,1339.4 1951.8,1413.9 1953.2,1358.6 1954.8,1413.9 1956.2,1330.7 1957.8,1413.9 1959.2,1330.7 1960.8,1413.9 1962.2,1369.4 1963.8,1413.9 1965.2,1330.7 1966.8,1413.9 1968.2,1330.7 1969.8,1413.9 1971.2,1348.6 1972.8,1413.9 1974.2,1369.4 1975.8,1413.9 1977.2,1358.6 1978.8,1413.9 1980.2,1369.4 1981.8,1413.9 1983.2,1393.9 1984.8,1413.9 1986.2,1358.6 1987.8,1413.9 1989.2,1330.7 1990.8,1413.9 1992.2,1369.4 1993.8,1413.9 1995.2,1358.6 1996.8,1413.9 1998.2,1358.6 1999.8,1413.9 2001.2,1369.4 2002.8,1413.9 2004.2,1381.1 2005.8,1413.9 2007.2,1381.1 2008.8,1413.9 2010.2,1381.1 2011.8,1413.9 2013.2,1423.9 2014.8,1423.9 2016.2,1423.9 2017.8,1423.9 2019.2,1423.9 2020.8,1423.9 2022.2,1423.9 2023.8,1423.9 2025.2,1423.9 2026.8,1423.9 2028.2,1423.9 2029.8,1423.9 2031.2,1423.9 2032.8,1423.9 2034.2,1423.9 2035.8,1423.9 2037.2,1423.9 2038.8,1423.9 2040.2,1423.9 2041.8,1423.9 2043.2,1423.9 2044.8,1423.9 2046.2,1423.9 2047.8,1423.9 2049.2,1423.9 2050.8,1423.9 2052.2,1423.9 2053.8,1423.9 2055.2,1423.9 2056.8,1423.9 2058.2,1423.9 2059.8,1423.9 2061.2,1423.9 2062.8,1423.9 2064.2,1423.9 2065.8,1423.9 2067.2,1423.9 2068.8,1423.9 2070.2,1423.9 2071.8,1423.9 2073.2,1423.9 2074.8,1423.9 2076.2,1423.9 2077.8,1423.9 2079.2,1423.9 2080.8,1423.9 2082.2,1423.9 2083.8,1423.9 2085.2,1423.9 2086.8,1423.9 2088.2,1423.9 2089.8,1423.9 2091.2,1423.9 2092.8,1423.9 2094.2,1423.9 2095.8,1423.9 2097.2,1423.9 2098.8,1423.9 2100.2,1423.9 2101.8,1423.9 2103.2,1423.9 2104.8,1423.9 2106.2,1423.9 2107.8,1423.9 2109.2,1423.9 2110.8,1423.9 2112.2,1423.9 2113.8,1423.9 2115.2,1423.9 2116.8,1423.9 2118.2,1423.9 2119.8,1423.9 2121.2,1423.9 2122.8,1423.9 2124.2,1423.9 2125.8,1423.9 2127.2,1423.9 2128.8,1423.9 2130.2,1423.9 2131.8,1423.9 2133.2,1423.9 2134.8,1423.9 2136.2,1423.9 2137.8,1423.9 2139.2,1423.9 2140.8,1423.9 2142.2,1423.9 2143.8,1423.9 2145.2,1423.9 2146.8,1423.9 2148.2,1423.9 2149.8,1423.9 2151.2,1423.9 2152.8,1423.9 2154.2,1423.9 2155.8,1423.9 2157.2,1423.9 2158.8,1423.9 2160.2,1423.9 2161.8,1423.9 2163.2,1423.9 2164.8,1423.9 2166.2,1423.9 2167.8,1423.9 2169.2,1423.9 2170.8,1423.9 2172.2,1423.9 2173.8,1423.9 2175.2,1423.9 2176.8,1423.9 2178.2,1423.9 2179.8,1423.9 2181.2,1423.9 2182.8,1423.9 2184.2,1423.9 2185.8,1423.9 2187.2,1423.9 2188.8,1423.9 2190.2,1423.9 2191.8,1423.9 2193.2,1423.9 2194.8,1423.9 2196.2,1423.9 2197.8,1423.9 2199.2,1423.9 2200.8,1423.9 2202.2,1423.9 2203.8,1423.9 2205.2,1423.9 2206.8,1423.9 2208.2,1423.9 2209.8,1423.9 2211.2,1423.9 2212.8,1423.9 2214.2,1423.9 2215.8,1423.9 2217.2,1423.9 2218.8,1423.9 2220.2,1423.9 2221.8,1423.9 2223.2,1423.9 2224.8,1423.9 2226.2,1423.9 2227.8,1423.9 2229.2,1423.9 2230.8,1423.9 2232.2,1423.9 2233.8,1423.9 2235.2,1423.9 2236.8,1423.9 2238.2,1423.9 2239.8,1423.9 2241.2,1423.9 2242.8,1423.9 2244.2,1423.9 2245.8,1423.9 2247.2,1423.9 2248.8,1423.9 2250.2,1423.9 2251.8,1423.9 2253.2,1423.9 2254.8,1423.9 2256.2,1423.9 2257.8,1423.9 2259.2,1423.9 2260.8,1423.9 2262.2,1423.9 2263.8,1423.9 2265.2,1423.9 2266.8,1423.9 2268.2,1423.9 2269.8,1423.9 2271.2,1423.9 2272.8,1423.9 2274.2,1423.9 2275.8,1423.9 2277.2,1423.9 2278.8,1423.9 2280.2,1423.9 2281.8,1423.9 2283.2,1423.9 2284.8,1423.9 2286.2,1423.9 2287.8,1423.9 2289.2,1423.9 2290.8,1423.9 2292.2,1423.9 2293.8,1423.9 2295.2,1423.9 2296.8,1423.9 2298.2,1423.9 2299.8,1423.9 2301.2,1423.9 2302.8,1423.9 2304.2,1423.9 2305.8,1423.9 2307.2,1423.9 2308.8,1423.9 2310.2,1423.9 2311.8,1423.9 2313.2,1423.9 2314.8,1423.9 2316.2,1423.9 2317.8,1423.9 2319.2,1423.9 2320.8,1423.9 2322.2,1423.9 2323.8,1423.9 2325.2,1423.9 2326.8,1423.9 2328.2,1423.9 2329.8,1423.9 2331.2,1423.9 2332.8,1423.9 2334.2,1423.9 2335.8,1423.9 2337.2,1423.9 2338.8,1423.9 2340.2,1423.9 2341.8,1423.9 2343.2,1423.9 2344.8,1423.9 2346.2,1423.9 2347.8,1423.9 2349.2,1423.9 2350.8,1423.9 2352.2,1423.9 2353.8,1423.9 2355.2,1423.9 2356.8,1423.9 2358.2,1423.9 2359.8,1423.9 2361.2,1423.9 2362.8,1423.9 2364.2,1423.9 2365.8,1423.9" fill="none" stroke="#000" stroke-width="4.8" stroke-linejoin="round" stroke-linecap="round"/>
<polyline points="334.6,662 335.6,575 337.5,574" fill="none" stroke="#000" stroke-opacity="0.6" stroke-width="3" stroke-linejoin="round"/>
<polygon points="897.7,925.0 900.0,843.2 901.8,720.6 902.5,516.2 902.9,132.0 903.8,107.5 904.7,134.6 905.1,558.8 905.8,784.4 907.6,919.8 909.9,1010.0" fill="#7c7c7c"/>
<polyline points="897.7,925.0 900.0,843.2 901.8,720.6 902.5,516.2 902.9,132.0 903.8,107.5" fill="none" stroke="#000" stroke-opacity="0.64" stroke-width="4.4" stroke-linejoin="round"/>
<polyline points="903.8,107.5 904.7,134.6 905.1,558.8 905.8,784.4 907.6,919.8 909.9,1010.0" fill="none" stroke="#000" stroke-opacity="0.56" stroke-width="4.4" stroke-linejoin="round"/>
<polygon points="1553.2,1045.0 1555.2,982.9 1556.7,889.8 1557.3,734.5 1557.7,442.6 1558.4,424.0 1559.2,444.3 1559.5,762.0 1560.2,931.0 1561.7,1032.4 1563.7,1100.0" fill="#aaa"/>
<polyline points="1553.2,1045.0 1555.2,982.9 1556.7,889.8 1557.3,734.5 1557.7,442.6 1558.4,424.0" fill="none" stroke="#000" stroke-opacity="0.8" stroke-width="4.5" stroke-linejoin="round"/>
<polyline points="1558.4,424.0 1559.2,444.3 1559.5,762.0 1560.2,931.0 1561.7,1032.4 1563.7,1100.0" fill="none" stroke="#000" stroke-opacity="0.6" stroke-width="4.5" stroke-linejoin="round"/>
<polygon points="1758.5,1290.0 1760.4,1215.2 1761.8,1103.0 1762.4,916.0 1762.8,564.4 1763.5,542.0 1764.2,567.5 1764.6,967.5 1765.2,1180.2 1766.6,1307.9 1768.5,1393.0 1758.5,1393.0" fill="#fff" stroke="#fff" stroke-width="4.3" stroke-linejoin="round"/>
<polyline points="1758.5,1290.0 1760.4,1215.2 1761.8,1103.0 1762.4,916.0 1762.8,564.4 1763.5,542.0" fill="none" stroke="#000" stroke-opacity="0.68" stroke-width="4.3" stroke-linejoin="round"/>
<polyline points="1763.5,542.0 1764.2,567.5 1764.6,967.5 1765.2,1180.2 1766.6,1307.9 1768.5,1393.0" fill="none" stroke="#000" stroke-opacity="0.64" stroke-width="4.3" stroke-linejoin="round"/>
<polygon points="2036.4,1393.0 2038.0,1346.1 2039.2,1275.8 2039.7,1158.5 2040.0,938.1 2040.6,924.0 2041.2,938.1 2041.5,1158.5 2042.0,1275.8 2043.2,1346.1 2044.8,1393.0" fill="#999"/>
<polyline points="2036.4,1393.0 2038.0,1346.1 2039.2,1275.8 2039.7,1158.5 2040.0,938.1 2040.6,924.0" fill="none" stroke="#000" stroke-opacity="0.8" stroke-width="4.6" stroke-linejoin="round"/>
<polyline points="2040.6,924.0 2041.2,938.1 2041.5,1158.5 2042.0,1275.8 2043.2,1346.1 2044.8,1393.0" fill="none" stroke="#000" stroke-opacity="0.7" stroke-width="4.6" stroke-linejoin="round"/>
<polygon points="2128.4,1393.0 2130.0,1350.4 2131.2,1286.5 2131.7,1179.9 2132.0,979.6 2132.6,966.8 2133.2,979.6 2133.5,1179.9 2134.0,1286.5 2135.2,1350.4 2136.8,1393.0" fill="#999"/>
<polyline points="2128.4,1393.0 2130.0,1350.4 2131.2,1286.5 2131.7,1179.9 2132.0,979.6 2132.6,966.8" fill="none" stroke="#000" stroke-opacity="0.8" stroke-width="4.6" stroke-linejoin="round"/>
<polyline points="2132.6,966.8 2133.2,979.6 2133.5,1179.9 2134.0,1286.5 2135.2,1350.4 2136.8,1393.0" fill="none" stroke="#000" stroke-opacity="0.7" stroke-width="4.6" stroke-linejoin="round"/>
<polygon points="2333.6,1393.0 2335.2,1363.4 2336.4,1319.1 2336.9,1245.2 2337.2,1106.2 2337.8,1097.3 2338.4,1106.2 2338.7,1245.2 2339.2,1319.1 2340.4,1363.4 2342.0,1393.0" fill="#999"/>
<polyline points="2333.6,1393.0 2335.2,1363.4 2336.4,1319.1 2336.9,1245.2 2337.2,1106.2 2337.8,1097.3" fill="none" stroke="#000" stroke-opacity="0.8" stroke-width="4.6" stroke-linejoin="round"/>
<polyline points="2337.8,1097.3 2338.4,1106.2 2338.7,1245.2 2339.2,1319.1 2340.4,1363.4 2342.0,1393.0" fill="none" stroke="#000" stroke-opacity="0.7" stroke-width="4.6" stroke-linejoin="round"/>
<polygon points="376.1,666.3 377.2,642.2 378.1,639.2 380.9,639.2 381.8,642.2 382.9,666.3" fill="#333"/>
<polygon points="383.2,665.2 384.3,647.4 385.2,644.4 388.0,644.4 388.9,647.4 390.0,665.2" fill="#333"/>
<polygon points="672.4,743.6 673.5,636.5 674.4,633.5 677.2,633.5 678.1,636.5 679.2,743.6" fill="#3a3a3a"/>
<polygon points="861.0,948.1 862.1,813.0 863.0,810.0 865.8,810.0 866.7,813.0 867.8,948.1" fill="#5a5a5a"/>
<polygon points="1066.1,1038.5 1067.2,859.6 1068.1,856.6 1070.9,856.6 1071.8,859.6 1072.9,1038.5" fill="#1c1c1c"/>
<polygon points="1166.4,1020.2 1167.5,962.7 1168.4,959.7 1171.2,959.7 1172.1,962.7 1173.2,1020.2" fill="#1c1c1c"/>
<polygon points="1207.6,1012.0 1208.7,855.8 1209.6,852.8 1212.4,852.8 1213.3,855.8 1214.4,1012.0" fill="#1c1c1c"/>
<polygon points="1413.4,980.6 1414.5,850.0 1415.4,847.0 1418.2,847.0 1419.1,850.0 1420.2,980.6" fill="#1c1c1c"/>
<polygon points="1691.1,1246.8 1692.2,1137.5 1693.1,1134.5 1695.9,1134.5 1696.8,1137.5 1697.9,1246.8" fill="#1c1c1c"/>
<polygon points="1782.6,1358.9 1783.7,1194.0 1784.6,1191.0 1787.4,1191.0 1788.3,1194.0 1789.4,1358.9" fill="#1c1c1c"/>
<polygon points="1920.0,1361.8 1921.1,1232.4 1922.0,1229.4 1924.8,1229.4 1925.7,1232.4 1926.8,1361.8" fill="#1c1c1c"/>
<polygon points="1987.0,1393.9 1988.1,1254.3 1989.0,1251.3 1991.8,1251.3 1992.7,1254.3 1993.8,1393.9" fill="#1c1c1c"/>
<polygon points="2013.1,1393.9 2014.2,1370.7 2015.1,1367.7 2017.9,1367.7 2018.8,1370.7 2019.9,1393.9" fill="#1c1c1c"/>
<polygon points="2018.8,1393.9 2019.9,1370.7 2020.8,1367.7 2023.6,1367.7 2024.5,1370.7 2025.6,1393.9" fill="#1c1c1c"/>
<polygon points="2071.2,1393.9 2072.3,1382.0 2073.2,1379.0 2076.0,1379.0 2076.9,1382.0 2078.0,1393.9" fill="#1c1c1c"/>
<polygon points="2089.1,1393.9 2090.2,1360.7 2091.1,1357.7 2093.9,1357.7 2094.8,1360.7 2095.9,1393.9" fill="#1c1c1c"/>
<polygon points="2266.2,1393.9 2267.3,1340.8 2268.2,1337.8 2271.0,1337.8 2271.9,1340.8 2273.0,1393.9" fill="#1c1c1c"/>
</g>
<g stroke="#101010" stroke-width="5.9" fill="none" stroke-linecap="butt">
<line x1="329.7" y1="91" x2="329.7" y2="1421.9"/>
<line x1="296.7" y1="1393.9" x2="2368.45" y2="1393.9"/>
<line x1="311.7" y1="1300.7" x2="329.7" y2="1300.7"/>
<line x1="311.7" y1="1246.1" x2="329.7" y2="1246.1"/>
<line x1="311.7" y1="1207.4" x2="329.7" y2="1207.4"/>
<line x1="311.7" y1="1177.4" x2="329.7" y2="1177.4"/>
<line x1="311.7" y1="1152.9" x2="329.7" y2="1152.9"/>
<line x1="311.7" y1="1132.2" x2="329.7" y2="1132.2"/>
<line x1="311.7" y1="1114.2" x2="329.7" y2="1114.2"/>
<line x1="311.7" y1="1098.4" x2="329.7" y2="1098.4"/>
<line x1="296.7" y1="1084.2" x2="329.7" y2="1084.2"/>
<line x1="311.7" y1="991.0" x2="329.7" y2="991.0"/>
<line x1="311.7" y1="936.4" x2="329.7" y2="936.4"/>
<line x1="311.7" y1="897.7" x2="329.7" y2="897.7"/>
<line x1="311.7" y1="867.7" x2="329.7" y2="867.7"/>
<line x1="311.7" y1="843.2" x2="329.7" y2="843.2"/>
<line x1="311.7" y1="822.5" x2="329.7" y2="822.5"/>
<line x1="311.7" y1="804.5" x2="329.7" y2="804.5"/>
<line x1="311.7" y1="788.7" x2="329.7" y2="788.7"/>
<line x1="296.7" y1="774.5" x2="329.7" y2="774.5"/>
<line x1="311.7" y1="681.3" x2="329.7" y2="681.3"/>
<line x1="311.7" y1="626.7" x2="329.7" y2="626.7"/>
<line x1="311.7" y1="588.0" x2="329.7" y2="588.0"/>
<line x1="311.7" y1="558.0" x2="329.7" y2="558.0"/>
<line x1="311.7" y1="533.5" x2="329.7" y2="533.5"/>
<line x1="311.7" y1="512.8" x2="329.7" y2="512.8"/>
<line x1="311.7" y1="494.8" x2="329.7" y2="494.8"/>
<line x1="311.7" y1="479.0" x2="329.7" y2="479.0"/>
<line x1="296.7" y1="464.8" x2="329.7" y2="464.8"/>
<line x1="311.7" y1="371.6" x2="329.7" y2="371.6"/>
<line x1="311.7" y1="317.0" x2="329.7" y2="317.0"/>
<line x1="311.7" y1="278.3" x2="329.7" y2="278.3"/>
<line x1="311.7" y1="248.3" x2="329.7" y2="248.3"/>
<line x1="311.7" y1="223.8" x2="329.7" y2="223.8"/>
<line x1="311.7" y1="203.1" x2="329.7" y2="203.1"/>
<line x1="311.7" y1="185.1" x2="329.7" y2="185.1"/>
<line x1="311.7" y1="169.3" x2="329.7" y2="169.3"/>
<line x1="296.7" y1="155.1" x2="329.7" y2="155.1"/>
<line x1="499.4" y1="1393.9" x2="499.4" y2="1408.9"/>
<line x1="669.0" y1="1393.9" x2="669.0" y2="1421.9"/>
<line x1="838.6" y1="1393.9" x2="838.6" y2="1408.9"/>
<line x1="1008.3" y1="1393.9" x2="1008.3" y2="1421.9"/>
<line x1="1178.0" y1="1393.9" x2="1178.0" y2="1408.9"/>
<line x1="1347.6" y1="1393.9" x2="1347.6" y2="1421.9"/>
<line x1="1517.2" y1="1393.9" x2="1517.2" y2="1408.9"/>
<line x1="1686.9" y1="1393.9" x2="1686.9" y2="1421.9"/>
<line x1="1856.5" y1="1393.9" x2="1856.5" y2="1408.9"/>
<line x1="2026.2" y1="1393.9" x2="2026.2" y2="1421.9"/>
<line x1="2195.8" y1="1393.9" x2="2195.8" y2="1408.9"/>
<line x1="2365.5" y1="1393.9" x2="2365.5" y2="1421.9"/>
</g>
<g>
<g transform="translate(329.3,1479.2) scale(1.073,1)"><text x="-15.74" font-size="56.6" fill="#000">0</text></g>
<g transform="translate(668.6,1479.2) scale(1.073,1)"><text x="-47.22 -15.74 15.74" font-size="56.6" fill="#000">500</text></g>
<g transform="translate(1007.9,1479.2) scale(1.073,1)"><text x="-61.03 -31.48 0.00 31.48" font-size="56.6" fill="#000">1000</text><rect x="-57.92" y="-5.23" width="10.67" height="7.43" fill="#fff"/><rect x="-41.35" y="-5.23" width="10.76" height="7.43" fill="#fff"/></g>
<g transform="translate(1347.2,1479.2) scale(1.073,1)"><text x="-61.03 -31.48 0.00 31.48" font-size="56.6" fill="#000">1500</text><rect x="-57.92" y="-5.23" width="10.67" height="7.43" fill="#fff"/><rect x="-41.35" y="-5.23" width="10.76" height="7.43" fill="#fff"/></g>
<g transform="translate(1686.5,1479.2) scale(1.073,1)"><text x="-62.96 -31.48 0.00 31.48" font-size="56.6" fill="#000">2000</text></g>
<g transform="translate(2025.8,1479.2) scale(1.073,1)"><text x="-62.96 -31.48 0.00 31.48" font-size="56.6" fill="#000">2500</text></g>
<g transform="translate(2365.1,1479.2) scale(1.073,1)"><text x="-62.96 -31.48 0.00 31.48" font-size="56.6" fill="#000">3000</text></g>
<g transform="translate(257.9,1411.7) scale(1.073,1)"><text x="-61.03 -31.48" font-size="56.6" fill="#000">10</text><rect x="-57.92" y="-5.23" width="10.67" height="7.43" fill="#fff"/><rect x="-41.35" y="-5.23" width="10.76" height="7.43" fill="#fff"/></g>
<g transform="translate(258.0,1382.3) scale(1.08,1)"><text class="sup" x="1.12" font-size="33" fill="#2a2a2a">1</text><rect x="2.94" y="-3.47" width="6.03" height="5.67" fill="#fff"/><rect x="12.79" y="-3.47" width="6.28" height="5.67" fill="#fff"/></g>
<g transform="translate(257.9,1102.5) scale(1.073,1)"><text x="-61.03 -31.48" font-size="56.6" fill="#000">10</text><rect x="-57.92" y="-5.23" width="10.67" height="7.43" fill="#fff"/><rect x="-41.35" y="-5.23" width="10.76" height="7.43" fill="#fff"/></g>
<g transform="translate(258.0,1073.0) scale(1.08,1)"><text class="sup" x="0.00" font-size="33" fill="#2a2a2a">2</text></g>
<g transform="translate(257.9,793.2) scale(1.073,1)"><text x="-61.03 -31.48" font-size="56.6" fill="#000">10</text><rect x="-57.92" y="-5.23" width="10.67" height="7.43" fill="#fff"/><rect x="-41.35" y="-5.23" width="10.76" height="7.43" fill="#fff"/></g>
<g transform="translate(258.0,763.8) scale(1.08,1)"><text class="sup" x="0.00" font-size="33" fill="#2a2a2a">3</text></g>
<g transform="translate(257.9,484.0) scale(1.073,1)"><text x="-61.03 -31.48" font-size="56.6" fill="#000">10</text><rect x="-57.92" y="-5.23" width="10.67" height="7.43" fill="#fff"/><rect x="-41.35" y="-5.23" width="10.76" height="7.43" fill="#fff"/></g>
<g transform="translate(258.0,454.6) scale(1.08,1)"><text class="sup" x="0.00" font-size="33" fill="#2a2a2a">4</text></g>
<g transform="translate(257.9,174.7) scale(1.073,1)"><text x="-61.03 -31.48" font-size="56.6" fill="#000">10</text><rect x="-57.92" y="-5.23" width="10.67" height="7.43" fill="#fff"/><rect x="-41.35" y="-5.23" width="10.76" height="7.43" fill="#fff"/></g>
<g transform="translate(258.0,145.3) scale(1.08,1)"><text class="sup" x="0.00" font-size="33" fill="#2a2a2a">5</text></g>
<g transform="translate(1347.5,1583) scale(1.13,1)"><text font-size="66" text-anchor="middle" fill="#000">Energy (keV)</text></g>
<g transform="translate(76.3,785) rotate(-90) scale(1,1.2)"><text class="pl" font-size="64.5" text-anchor="middle" fill="#000">Counts</text></g>
<g transform="translate(1524.5,131.2) scale(1.147,1)"><text font-size="65" text-anchor="start" fill="#000">Full energy peaks of</text></g>
<g transform="translate(2217.5,97.3) scale(1.13,1)"><text class="sup" x="0.00 21.69" font-size="39" fill="#444">56</text></g>
<g transform="translate(2266,131.2) scale(1.15,1)"><text font-size="65" text-anchor="start" fill="#000">Mn</text></g>
<g transform="translate(925.2,96.0) rotate(-90) scale(1,1.17)"><text class="pl" x="0.00 26.42 52.83" font-size="47.5" fill="#111">847</text></g>
<g transform="translate(1574,406.5) rotate(-90) scale(1,1.17)"><text class="pl" x="1.62 26.42 54.45 80.87" font-size="47.5" fill="#111">1811</text><rect x="4.23" y="-4.55" width="8.88" height="6.75" fill="#fff"/><rect x="18.21" y="-4.55" width="9.03" height="6.75" fill="#fff"/><rect x="57.06" y="-4.55" width="8.88" height="6.75" fill="#fff"/><rect x="71.04" y="-4.55" width="9.03" height="6.75" fill="#fff"/><rect x="83.48" y="-4.55" width="8.88" height="6.75" fill="#fff"/><rect x="97.46" y="-4.55" width="9.03" height="6.75" fill="#fff"/></g>
<g transform="translate(1783.2,541.5) rotate(-90) scale(1,1.17)"><text class="pl" x="0.00 28.03 54.45 79.25" font-size="47.5" fill="#111">2113</text><rect x="30.64" y="-4.55" width="8.88" height="6.75" fill="#fff"/><rect x="44.62" y="-4.55" width="9.03" height="6.75" fill="#fff"/><rect x="57.06" y="-4.55" width="8.88" height="6.75" fill="#fff"/><rect x="71.04" y="-4.55" width="9.03" height="6.75" fill="#fff"/></g>
<g transform="translate(2060,912.5) rotate(-90) scale(1,1.17)"><text class="pl" x="0.00 26.42 52.83 79.25" font-size="47.5" fill="#111">2522</text></g>
<g transform="translate(2152,951.5) rotate(-90) scale(1,1.17)"><text class="pl" x="0.00 26.42 52.83 79.25" font-size="47.5" fill="#111">2657</text></g>
<g transform="translate(2357.2,1088) rotate(-90) scale(1,1.17)"><text class="pl" x="0.00 26.42 52.83 79.25" font-size="47.5" fill="#111">2959</text></g>
</g>
</svg>
</body></html>
